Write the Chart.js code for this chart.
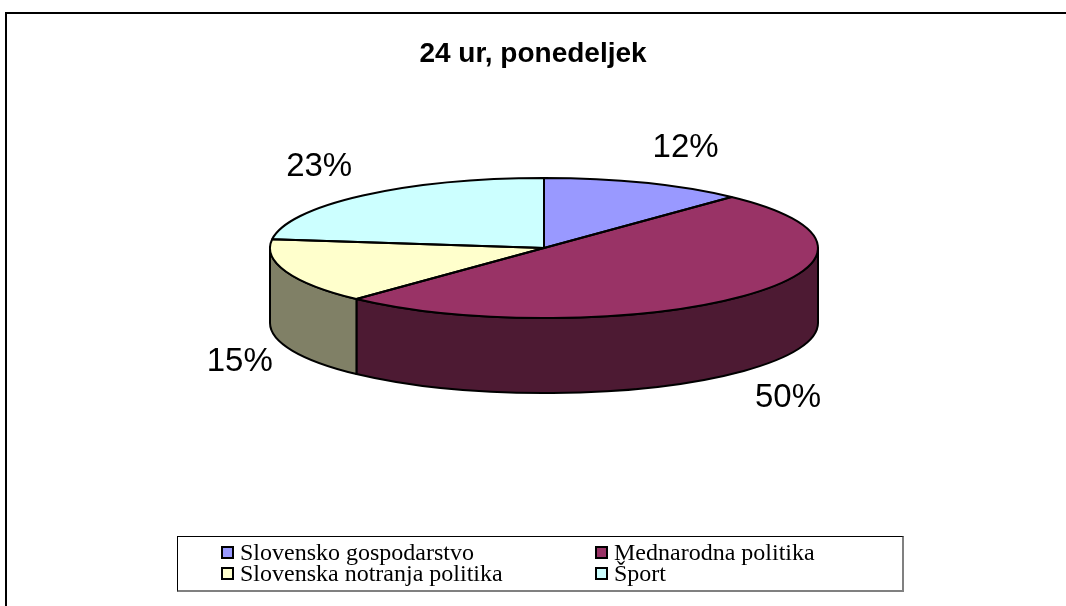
<!DOCTYPE html>
<html>
<head>
<meta charset="utf-8">
<script src="https://cdn.jsdelivr.net/npm/chart.js@4.4.1/dist/chart.umd.min.js"></script>
<style>
  body { margin: 0; background: #fff; }
  #wrap { position: relative; width: 1066px; height: 606px; overflow: hidden; }
  #frame { position: absolute; left: 5px; top: 12px; right: -10px; bottom: -10px;
           border-top: 2px solid #000; border-left: 2px solid #000; }
  #legend { position: absolute; left: 177px; top: 536px; width: 724px; height: 53px;
            border-top: 1px solid #000; border-left: 1px solid #000;
            border-right: 2px solid #808080; border-bottom: 2px solid #808080;
            font-family: "Liberation Serif", "Times New Roman", serif; font-size: 24px; color: #000; }
  .item { position: absolute; height: 21px; line-height: 21px; white-space: nowrap; }
  .item span.box { display: inline-block; width: 9px; height: 9px; border: 2px solid #000;
                   margin-right: 6px; vertical-align: 1px; }
</style>
</head>
<body>
<div id="wrap">
  <canvas id="pie"></canvas>
  <div id="frame"></div>
  <div id="legend"></div>
</div>
<script>
const categories = ['Slovensko gospodarstvo', 'Mednarodna politika', 'Slovenska notranja politika', 'Šport'];
const shares = [12, 50, 15, 23];
const topColors = ['#9999FF', '#993366', '#FFFFCC', '#CCFFFF'];
const sideColors = ['#4D4D80', '#4D1A33', '#808066', '#668080'];

// where the flattened pie sits on the page
const CX = 544, CY = 248, RX = 274, RY = 70, DEPTH = 75;

const pie3d = {
  id: 'pie3d',
  beforeDatasetsDraw(chart) {
    const ctx = chart.ctx;
    const arcs = chart.getDatasetMeta(0).data;
    ctx.save();
    ctx.lineWidth = 2;
    ctx.strokeStyle = '#000';
    ctx.lineJoin = 'round';
    // front walls
    arcs.forEach((arc, i) => {
      const a0 = Math.max(arc.startAngle, 0);
      const a1 = Math.min(arc.endAngle, Math.PI);
      if (a1 <= a0) return;
      ctx.beginPath();
      ctx.ellipse(CX, CY, RX, RY, 0, a0, a1);
      ctx.ellipse(CX, CY + DEPTH, RX, RY, 0, a1, a0, true);
      ctx.closePath();
      ctx.fillStyle = sideColors[i];
      ctx.fill();
      ctx.stroke();
    });
    ctx.restore();
    // squash the library's round pie onto the top face
    const p = arcs[0];
    ctx.save();
    ctx.translate(CX, CY);
    ctx.scale(RX / p.outerRadius, RY / p.outerRadius);
    ctx.translate(-p.x, -p.y);
  },
  afterDatasetsDraw(chart) {
    const ctx = chart.ctx;
    ctx.restore();
    const arcs = chart.getDatasetMeta(0).data;
    const total = shares.reduce((a, b) => a + b, 0);
    ctx.save();
    ctx.lineWidth = 2;
    ctx.strokeStyle = '#000';
    ctx.lineJoin = 'round';
    arcs.forEach(arc => {
      ctx.beginPath();
      ctx.moveTo(CX, CY);
      ctx.ellipse(CX, CY, RX, RY, 0, arc.startAngle, arc.endAngle);
      ctx.closePath();
      ctx.stroke();
    });
    // percent labels, outside each slice
    ctx.fillStyle = '#000';
    ctx.font = '33px "Liberation Sans", Arial, sans-serif';
    ctx.textAlign = 'center';
    ctx.textBaseline = 'middle';
    arcs.forEach((arc, i) => {
      const mid = (arc.startAngle + arc.endAngle) / 2;
      const c = Math.cos(mid), s = Math.sin(mid);
      const x = CX + c * 284 + Math.sign(c) * 37;
      const y = CY + s * 103 + Math.sign(s) * 4 + (s > 0 ? DEPTH : 0);
      ctx.fillText(Math.round(shares[i] / total * 100) + '%', x, y);
    });
    ctx.restore();
  }
};

const chart = new Chart(document.getElementById('pie'), {
  type: 'pie',
  data: {
    labels: categories,
    datasets: [{
      data: shares,
      backgroundColor: topColors,
      borderWidth: 0,
      clip: false
    }]
  },
  options: {
    responsive: true,
    maintainAspectRatio: false,
    animation: false,
    events: [],
    layout: { padding: { top: 0, bottom: 20 } },
    plugins: {
      legend: { display: false },
      tooltip: { enabled: false },
      title: {
        display: true,
        text: '24 ur, ponedeljek',
        color: '#000',
        font: { family: '"Liberation Sans", Arial, sans-serif', size: 28, weight: 'bold' },
        padding: { top: 37, bottom: 20 }
      }
    }
  },
  plugins: [pie3d]
});

// legend in two columns, as in the original
const legendEl = document.getElementById('legend');
const colX = [43, 417];
categories.forEach((name, i) => {
  const item = document.createElement('div');
  item.className = 'item';
  item.style.left = colX[i % 2] + 'px';
  item.style.top = (5 + Math.floor(i / 2) * 21) + 'px';
  item.innerHTML = '<span class="box" style="background:' + topColors[i] + '"></span>' + name;
  legendEl.appendChild(item);
});
</script>
</body>
</html>
